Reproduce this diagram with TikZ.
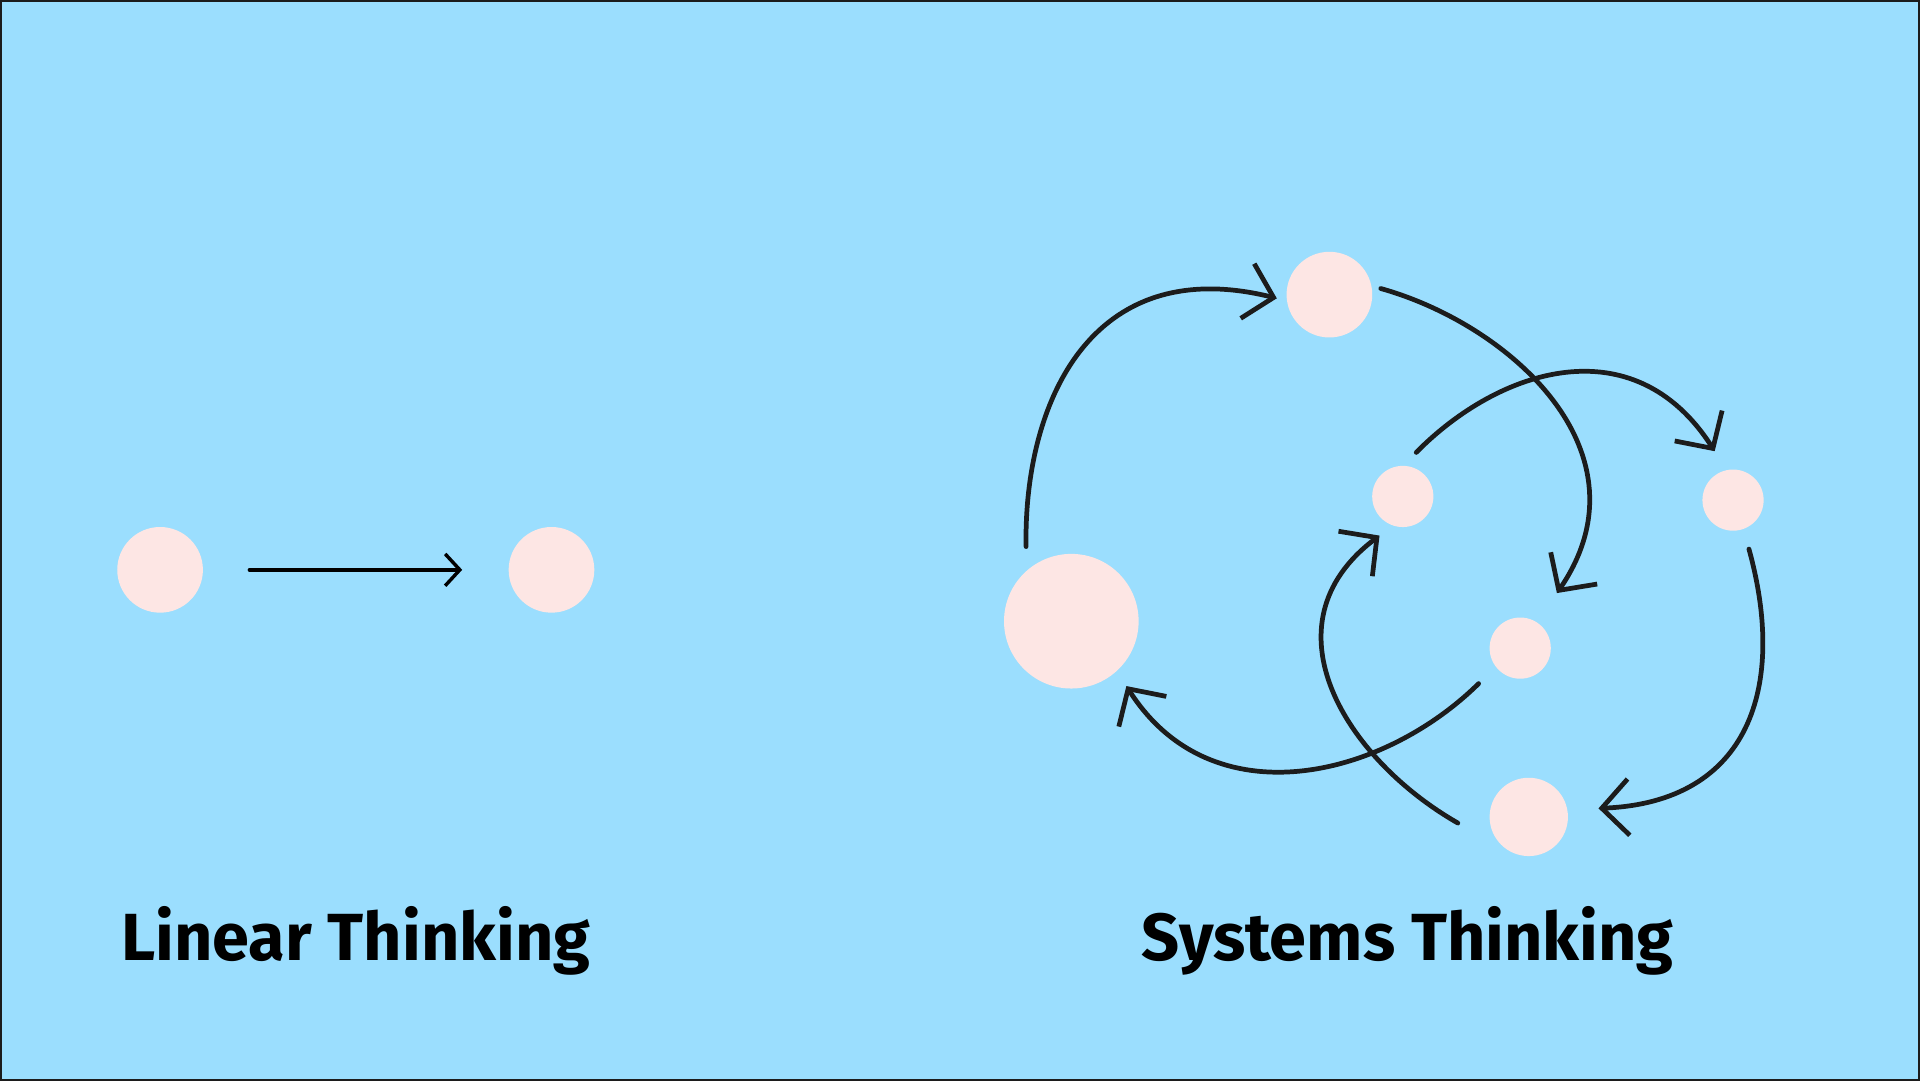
\documentclass[tikz,border=0pt]{standalone}
\usepackage{fontspec}
\setmainfont{Fira Sans}
\usetikzlibrary{arrows.meta, calc}
\definecolor{himmel}{RGB}{155,222,254}
\definecolor{punkt}{RGB}{253,230,228}
\definecolor{strich}{RGB}{28,28,28}
\begin{document}
\begin{tikzpicture}[x=0.01cm, y=-0.01cm,
	dot/.style={circle, fill=punkt, inner sep=0pt, minimum size=#1cm},
	loop/.style={strich, line width=1.1pt, line cap=round, -{Straight Barb[length=2.2mm, width=4.6mm, line width=1.1pt]}},
	title/.style={font=\bfseries\fontsize{15.5}{17}\selectfont, text=black}]

	% Hintergrund
	\draw[fill=himmel, draw=strich, line width=0.5pt] (0,0) rectangle (1568,882);

	% Linear
	\node[dot=0.7] (L1) at (130,465) {};
	\node[dot=0.7] (L2) at (450,465) {};
	\draw[black, line width=0.8pt, line cap=round, -{Straight Barb[length=1.2mm, width=2.6mm, line width=0.8pt]}] ($(L1)+(73,0)$) -- ($(L2)+(-73,0)$);

	% Systeme
	\node[dot=1.1] (S1) at (875,507) {};
	\node[dot=0.7] (S2) at (1086,240) {};
	\node[dot=0.5] (S3) at (1146,405) {};
	\node[dot=0.5] (S4) at (1416,408) {};
	\node[dot=0.5] (S5) at (1242,529) {};
	\node[dot=0.64] (S6) at (1249,667) {};

	\coordinate (a1) at (838,446);  \coordinate (b1) at (1043,243);
	\coordinate (a2) at (1128,235); \coordinate (b2) at (1272,484);
	\coordinate (a3) at (1157,369); \coordinate (b3) at (1401,368);
	\coordinate (a4) at (1429,448); \coordinate (b4) at (1306,660);
	\coordinate (a5) at (1191,672); \coordinate (b5) at (1127,437);
	\coordinate (a6) at (1208,558); \coordinate (b6) at (920,560);

	\draw[loop] (a1) .. controls (836,330) and (890,205) .. (b1);
	\draw[loop] (a2) .. controls (1235,265) and (1350,370) .. (b2);
	\draw[loop] (a3) .. controls (1225,300) and (1335,265) .. (b3);
	\draw[loop] (a4) .. controls (1460,560) and (1430,655) .. (b4);
	\draw[loop] (a5) .. controls (1100,620) and (1030,510) .. (b5);
	\draw[loop] (a6) .. controls (1130,635) and (990,670) .. (b6);

	% Titel
	\node[title] (T1) at (290,768) {Linear Thinking};
	\node[title] (T2) at (1150,768) {Systems Thinking};
\end{tikzpicture}
\end{document}
